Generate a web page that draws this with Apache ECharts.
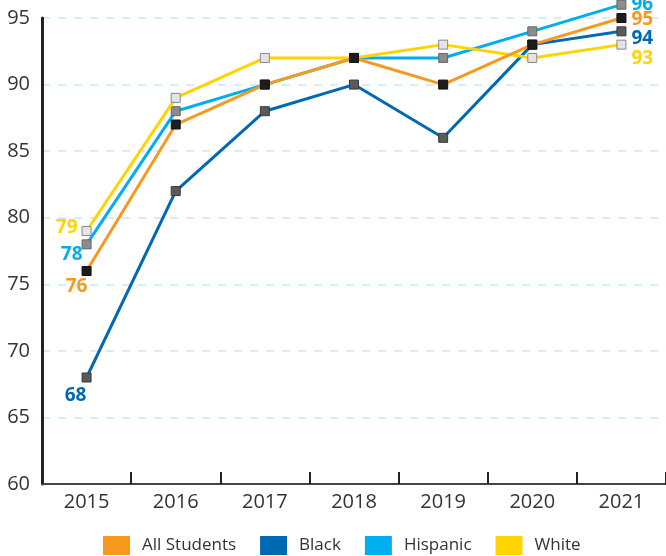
<!DOCTYPE html>
<html>
<head>
<meta charset="utf-8">
<script src="https://cdn.jsdelivr.net/npm/echarts@6/dist/echarts.min.js"></script>
<style>html,body{margin:0;padding:0;background:#fff;}#c{width:666px;height:556px;}</style>
</head>
<body>
<div id="c"></div>
<script>
var years = ['2015','2016','2017','2018','2019','2020','2021'];
var seriesNames = ['All Students','Black','Hispanic','White'];
var allStudents = [76, 87, 90, 92, 90, 93, 95];
var black = [68, 82, 88, 90, 86, 93, 94];
var hispanic = [78, 88, 90, 92, 92, 94, 96];
var white = [79, 89, 92, 92, 93, 92, 93];
var yTicks = [60, 65, 70, 75, 80, 85, 90, 95];

var font = '"Open Sans", "Noto Sans", sans-serif';
var styles = {
  'All Students': {line:'#F7991C', fill:'#1c1c1c', border:'#111', z:5,
    first:{position:'bottom', offset:[-10,-3]}, last:{position:'right', offset:[1,2]}},
  'Black': {line:'#0069B4', fill:'#5a5a5a', border:'#3a3a3a', z:3,
    first:{position:'bottom', offset:[-11,0]}, last:{position:'right', offset:[1,7]}},
  'Hispanic': {line:'#00AEEF', fill:'#8c8c8c', border:'#666', z:2,
    first:{position:'left', offset:[5,10]}, last:{position:'right', offset:[1,0]}},
  'White': {line:'#FFD400', fill:'#e4e4e4', border:'#888', z:4,
    first:{position:'left', offset:[0,-3]}, last:{position:'right', offset:[1,14]}}
};
var values = {'All Students':allStudents,'Black':black,'Hispanic':hispanic,'White':white};

function buildSeries(name){
  var st = styles[name];
  var vals = values[name];
  var data = vals.map(function(v,i){
    var item = {value:v};
    if(i===0 || i===vals.length-1){
      var cfg = i===0 ? st.first : st.last;
      item.label = {show:true, position:cfg.position, offset:cfg.offset, distance:4,
        color:st.line, fontSize:19, fontWeight:'bold', fontFamily:font};
    }
    return item;
  });
  return {
    name:name, type:'line', data:data, z:st.z, clip:false,
    symbol:'rect', symbolSize:9, showAllSymbol:true,
    lineStyle:{color:st.line, width:3},
    itemStyle:{color:st.fill, borderColor:st.border, borderWidth:1},
    label:{show:false},
    emphasis:{disabled:true},
    animation:false
  };
}

var chart = echarts.init(document.getElementById('c'), null, {renderer:'canvas'});
chart.setOption({
  backgroundColor:'#fff',
  animation:false,
  grid:{left:42, right:0, top:18, bottom:72},
  legend:{
    top:531, left:98, icon:'rect', itemWidth:27, itemHeight:19, itemGap:24,
    textStyle:{color:'#333', fontSize:17, fontFamily:font, padding:[0,0,0,7]},
    data: seriesNames.map(function(n){return {name:n, itemStyle:{color:styles[n].line, borderWidth:0}};})
  },
  xAxis:{
    type:'category', data:years, boundaryGap:true,
    axisLine:{show:true, lineStyle:{color:'#3b474d', width:2}},
    axisTick:{show:true, inside:true, length:12, lineStyle:{color:'#222', width:2}},
    axisLabel:{color:'#333', fontSize:20, fontFamily:font, margin:8},
    splitLine:{show:false}
  },
  yAxis:{
    type:'value', min:60, max:95, interval:5,
    axisLine:{show:true, lineStyle:{color:'#222', width:3}},
    axisTick:{show:false},
    axisLabel:{color:'#333', fontSize:20, fontFamily:font, margin:12,
      formatter:function(v){return yTicks.indexOf(v)>=0 ? String(v) : '';}},
    splitLine:{show:true, lineStyle:{color:'#c6e8f7', type:[8,8], width:1.5}}
  },
  series: seriesNames.map(buildSeries)
});
</script>
</body>
</html>
